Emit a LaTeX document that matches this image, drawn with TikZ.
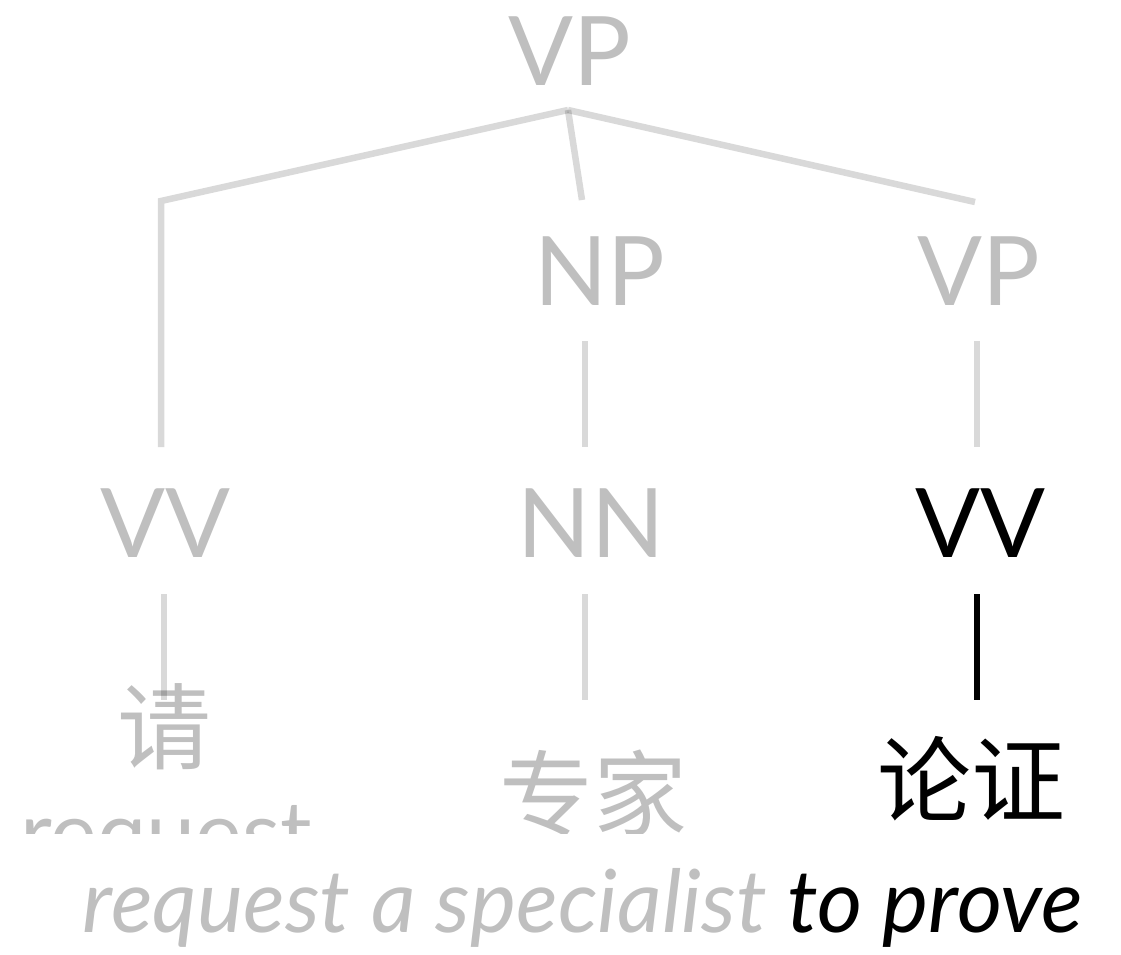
\documentclass[tikz,border=0pt]{standalone}
\usepackage{fontspec}
\setmainfont{Lato}
\newfontfamily\cjk{Noto Sans CJK SC}
\definecolor{labelgray}{HTML}{BFBFBF}
\begin{document}
\begin{tikzpicture}[x=1pt,y=-1pt,
  lbl/.style={text=labelgray,inner sep=0pt,anchor=base,font=\fontsize{96}{110}\selectfont},
  hz/.style={lbl,font=\cjk\fontsize{94}{110}\selectfont},
  edge/.style={draw=black,draw opacity=.15,line width=6.5pt,line join=miter}]
\useasboundingbox (0,0) rectangle (1121,954);
\begin{scope}
\clip (0,0) rectangle (1121,833);
% phrase and tag labels
\node[lbl] (vp) at (570,85) {VP};
\node[lbl] (np) at (600,305) {NP};
\node[lbl] (vpr) at (979,305) {VP};
\node[lbl] (vvl) at (165,557) {VV};
\node[lbl] (nn) at (591,557) {NN};
\node[lbl,text=black] (vvr) at (980,557) {VV};
% words
\node[hz] (qing) at (164,762) {请};
\node[hz] (zhuanjia) at (593,829) {专家};
\node[hz,text=black] (lunzheng) at (971,815) {论证};
\node[lbl,font=\fontsize{88}{100}\selectfont] (req) at (166,864) {request};
% branches
\coordinate (apex) at (568,110);
\coordinate (cl) at (161,201); \coordinate (clb) at (161,447);
\coordinate (cm) at (582,200); \coordinate (cr) at (975,202);
\draw[edge] (apex)--(cl)--(clb);
\draw[edge] (apex)--(cm);
\draw[edge] (apex)--(cr);
\foreach \n/\x/\ya/\yb in {npl/585/341/447,vpl/977/341/447,vvll/164/594/700,nnl/585/594/700}{\coordinate (\n t) at (\x,\ya);\coordinate (\n b) at (\x,\yb);\draw[edge] (\n t)--(\n b);}
\coordinate (vvrt) at (977,594); \coordinate (vvrb) at (977,700);
\draw[line width=6.5pt] (vvrt)--(vvrb);
\end{scope}
% gloss
\node[lbl,font=\itshape\fontsize{87}{100}\selectfont] (gloss) at (583,932) {request a specialist \textcolor{black}{to prove}};
\end{tikzpicture}
\end{document}
